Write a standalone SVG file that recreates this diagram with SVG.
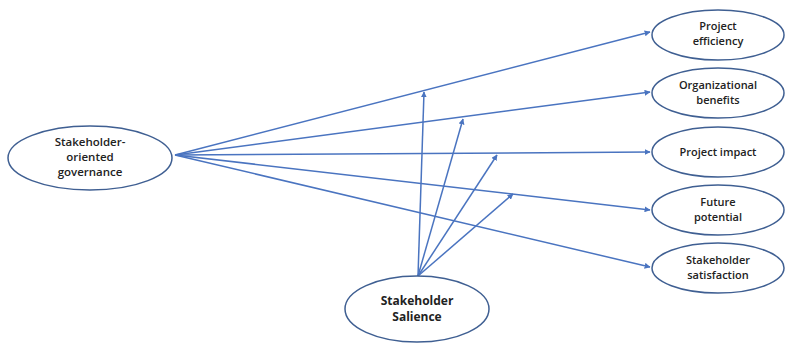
<svg xmlns="http://www.w3.org/2000/svg" width="788" height="345" viewBox="0 0 788 345">
<style>
.node ellipse{fill:#fff;stroke:#3f5f92;stroke-width:1.5}
.node text{font-family:"Open Sans","Liberation Sans",sans-serif;font-size:11px;font-weight:600;fill:#222;text-anchor:middle}
.edges line{stroke:#4a74c0;stroke-width:1.5;marker-end:url(#ah)}
</style>
<defs>
<marker id="ah" viewBox="0 0 10 10" refX="9" refY="5" markerWidth="6" markerHeight="6" markerUnits="userSpaceOnUse" orient="auto">
<path d="M0,0 L10,5 L0,10 z" fill="#4a74c0"/>
</marker>
</defs>
<rect width="788" height="345" fill="#fff"/>
<g class="edges">
<line x1="175" y1="155" x2="650" y2="32"/>
<line x1="175" y1="155" x2="650" y2="92"/>
<line x1="175" y1="155" x2="650" y2="152"/>
<line x1="175" y1="155" x2="650" y2="210"/>
<line x1="175" y1="155" x2="650" y2="267"/>
<line x1="418" y1="276" x2="424" y2="92"/>
<line x1="418" y1="276" x2="463" y2="119"/>
<line x1="418" y1="276" x2="497" y2="155"/>
<line x1="418" y1="276" x2="513" y2="194"/>
</g>
<g id="governance" class="node">
<ellipse cx="90" cy="158" rx="82" ry="32"/>
<text x="90" y="146" style="font-size:11.5px">Stakeholder-</text>
<text x="90" y="161" style="font-size:11.5px">oriented</text>
<text x="90" y="176" style="font-size:11.5px">governance</text>
</g>
<g id="efficiency" class="node">
<ellipse cx="718" cy="35" rx="66" ry="25"/>
<text x="718" y="30">Project</text>
<text x="718" y="45">efficiency</text>
</g>
<g id="benefits" class="node">
<ellipse cx="718" cy="93" rx="66" ry="25"/>
<text x="718" y="89">Organizational</text>
<text x="718" y="104">benefits</text>
</g>
<g id="impact" class="node">
<ellipse cx="718" cy="152" rx="66" ry="25"/>
<text x="718" y="156">Project impact</text>
</g>
<g id="potential" class="node">
<ellipse cx="718" cy="210" rx="66" ry="25"/>
<text x="718" y="206">Future</text>
<text x="718" y="221">potential</text>
</g>
<g id="satisfaction" class="node">
<ellipse cx="718" cy="268" rx="66" ry="25"/>
<text x="718" y="264">Stakeholder</text>
<text x="718" y="279">satisfaction</text>
</g>
<g id="salience" class="node">
<ellipse cx="417" cy="309" rx="72" ry="33"/>
<text x="417" y="305" style="font-weight:700;font-size:12px">Stakeholder</text>
<text x="417" y="321" style="font-weight:700;font-size:12px">Salience</text>
</g>
</svg>
